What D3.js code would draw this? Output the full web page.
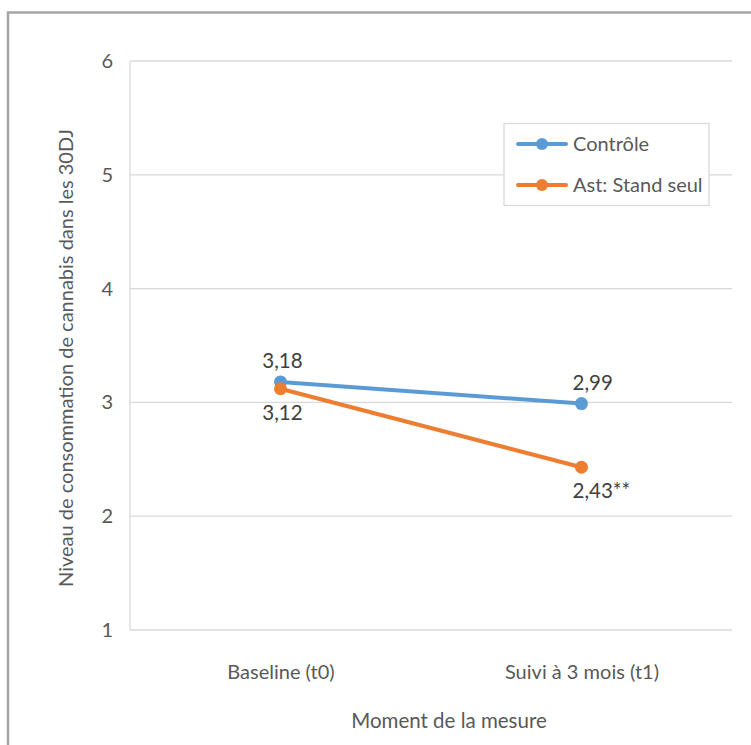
<!DOCTYPE html>
<html>
<head>
<meta charset="utf-8">
<script src="https://cdn.jsdelivr.net/npm/d3@7"></script>
<style>
  html, body { margin: 0; padding: 0; background: #fff; }
  svg { display: block; }
  text { font-family: Lato, "Open Sans", sans-serif; }
</style>
</head>
<body>
<svg id="chart" width="751" height="745"></svg>
<script>
// Moments de mesure
const categories = ["Baseline (t0)", "Suivi à 3 mois (t1)"];
// Niveau moyen de consommation par groupe
const controleValues = [3.18, 2.99];
const standSeulValues = [3.12, 2.43];
const seriesNames = ["Contrôle", "Ast: Stand seul"];
// Étiquettes affichées sur les points
const controleLabels = ["3,18", "2,99"];
const standSeulLabels = ["3,12", "2,43**"];
const yTicks = [1, 2, 3, 4, 5, 6];

const svg = d3.select("#chart");
const W = 751, H = 745;
const plot = { left: 130, right: 732, top: 61, bottom: 630 };
const FS = "20px";

// Cadre extérieur du graphique
svg.append("path")
  .attr("d", `M8,${H + 5} L8,12.5 L${W + 5},12.5`)
  .attr("fill", "none")
  .attr("stroke", "#a6a6a6")
  .attr("stroke-width", 2.5);

const x = d3.scalePoint().domain(categories).range([plot.left, plot.right]).padding(0.5);
const y = d3.scaleLinear().domain([1, 6]).range([plot.bottom, plot.top]);

// Quadrillage horizontal
svg.append("g")
  .selectAll("line")
  .data(yTicks)
  .join("line")
  .attr("x1", plot.left).attr("x2", plot.right)
  .attr("y1", d => y(d)).attr("y2", d => y(d))
  .attr("stroke", "#d9d9d9").attr("stroke-width", 1.3);

// Axe vertical (trait)
svg.append("line")
  .attr("x1", plot.left).attr("x2", plot.left)
  .attr("y1", plot.top).attr("y2", plot.bottom)
  .attr("stroke", "#d9d9d9").attr("stroke-width", 1.3);

// Graduations Y
const yAxis = d3.axisLeft(y).tickValues(yTicks).tickSize(0).tickPadding(17).tickFormat(d3.format("d"));
const gy = svg.append("g").attr("transform", `translate(${plot.left},0)`).call(yAxis);
gy.select(".domain").remove();
gy.selectAll("text").attr("fill", "#595959").style("font-size", FS)
  .style("font-family", "Lato, sans-serif");

// Catégories X
const xAxis = d3.axisBottom(x).tickSize(0).tickPadding(35);
const gx = svg.append("g").attr("transform", `translate(0,${plot.bottom})`).call(xAxis);
gx.select(".domain").remove();
gx.selectAll("text").attr("fill", "#595959").style("font-size", FS)
  .style("font-family", "Lato, sans-serif");

// Titres des axes
svg.append("text")
  .attr("x", 449).attr("y", 728)
  .attr("text-anchor", "middle")
  .attr("fill", "#595959").style("font-size", "20.5px")
  .text("Moment de la mesure");

svg.append("text")
  .attr("transform", "translate(73,358) rotate(-90)")
  .attr("text-anchor", "middle")
  .attr("fill", "#595959").style("font-size", FS)
  .text("Niveau de consommation de cannabis dans les 30DJ");

// Séries
const series = [
  { name: seriesNames[0], values: controleValues, labels: controleLabels, color: "#5b9bd5" },
  { name: seriesNames[1], values: standSeulValues, labels: standSeulLabels, color: "#ed7d31" }
];

const line = d3.line().x((d, i) => x(categories[i])).y(d => y(d));

series.forEach(s => {
  svg.append("path")
    .datum(s.values)
    .attr("d", line)
    .attr("fill", "none")
    .attr("stroke", s.color)
    .attr("stroke-width", 4)
    .attr("stroke-linecap", "round");
  svg.append("g")
    .selectAll("circle")
    .data(s.values)
    .join("circle")
    .attr("cx", (d, i) => x(categories[i]))
    .attr("cy", d => y(d))
    .attr("r", 6.5)
    .attr("fill", s.color);
});

// Étiquettes de données : Contrôle au-dessus, Stand seul en dessous
const labelStyle = sel => sel.attr("fill", "#404040").style("font-size", "20.5px");
series.forEach((s, si) => {
  svg.append("g")
    .selectAll("text")
    .data(s.values)
    .join("text")
    .attr("x", (d, i) => i === 0 ? x(categories[i]) + 2 : x(categories[i]) - 9)
    .attr("y", d => si === 0 ? y(d) - 21 : y(d) + 24)
    .attr("dy", "0.35em")
    .attr("text-anchor", (d, i) => i === 0 ? "middle" : "start")
    .call(labelStyle)
    .text((d, i) => s.labels[i]);
});

// Légende
const legend = svg.append("g");
legend.append("rect")
  .attr("x", 504).attr("y", 123.5).attr("width", 205).attr("height", 82)
  .attr("fill", "#fff").attr("stroke", "#d9d9d9").attr("stroke-width", 1.3);
series.forEach((s, i) => {
  const cy = 144 + i * 41;
  legend.append("line")
    .attr("x1", 518).attr("x2", 566).attr("y1", cy).attr("y2", cy)
    .attr("stroke", s.color).attr("stroke-width", 4).attr("stroke-linecap", "round");
  legend.append("circle").attr("cx", 542).attr("cy", cy).attr("r", 6).attr("fill", s.color);
  legend.append("text")
    .attr("x", 573).attr("y", cy).attr("dy", "0.35em")
    .attr("fill", "#595959").style("font-size", FS)
    .text(s.name);
});
</script>
</body>
</html>
